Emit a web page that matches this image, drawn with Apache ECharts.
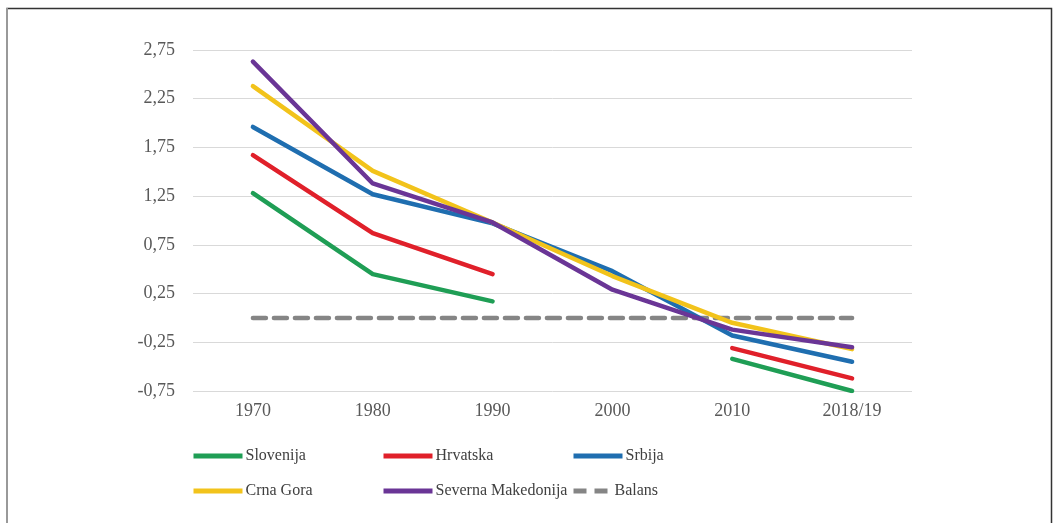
<!DOCTYPE html>
<html>
<head>
<meta charset="utf-8">
<script src="https://cdn.jsdelivr.net/npm/echarts@6/dist/echarts.min.js"></script>
<style>
  html, body { margin: 0; padding: 0; background: #fff; }
  #chart { width: 1053px; height: 523px; }
</style>
</head>
<body>
<div id="chart"></div>
<script>
// podaci
var years = ["1970", "1980", "1990", "2000", "2010", "2018/19"];
var slovenija = [1.28, 0.45, 0.17, null, -0.42, -0.75];
var hrvatska = [1.67, 0.87, 0.45, null, -0.31, -0.62];
var srbija = [1.96, 1.27, 0.97, 0.48, -0.18, -0.45];
var crnaGora = [2.38, 1.51, 0.98, 0.43, -0.05, -0.32];
var sevMakedonija = [2.63, 1.38, 0.98, 0.29, -0.12, -0.30];
var balans = [0, 0, 0, 0, 0, 0];

var serifFont = "Liberation Serif";
var myChart = echarts.init(document.getElementById("chart"));

function lineSeries(name, data, color, dashed) {
  return {
    name: name,
    type: "line",
    data: data,
    symbol: "none",
    showSymbol: false,
    connectNulls: false,
    lineStyle: dashed
      ? { color: color, width: 4.5, type: [13, 8], cap: "round" }
      : { color: color, width: 4.5, cap: "round", join: "round" },
    itemStyle: { color: color },
    z: dashed ? 1 : 2,
  };
}

// legenda - svaka stavka posebno, kao u Excelu
function legendItem(name, left, top, w) {
  return {
    data: [name],
    left: left,
    top: top,
    itemWidth: w || 49,
    itemHeight: 5,
    itemGap: 3,
    padding: 0,
    lineStyle: { width: 5, cap: "butt" },
    itemStyle: { opacity: 0 },
    textStyle: { fontFamily: serifFont, fontSize: 16, color: "#404040", padding: [0, 0, 0, -2] },
  };
}

var option = {
  animation: false,
  backgroundColor: "#fff",
  graphic: [
    {
      type: "polyline",
      shape: { points: [[7, 530], [7, 8.5], [1051.5, 8.5], [1051.5, 530]] },
      style: { stroke: "#333", lineWidth: 1.5, fill: null },
    },
    {
      type: "line",
      shape: { x1: 7, y1: 8, x2: 7, y2: 530 },
      style: { stroke: "#999", lineWidth: 2 },
    },
  ],
  legend: [
    legendItem("Slovenija", 191, 448),
    legendItem("Hrvatska", 381, 448),
    legendItem("Srbija", 571, 448),
    legendItem("Crna Gora", 191, 483),
    legendItem("Severna Makedonija", 381, 483),
    legendItem("Balans", 571, 483, 38),
  ],
  grid: { left: 193, right: 141, top: 50, bottom: 132 },
  xAxis: {
    type: "category",
    data: years,
    boundaryGap: true,
    axisLine: { show: false },
    axisTick: { show: false },
    axisLabel: { fontFamily: serifFont, fontSize: 18, color: "#595959", margin: 11 },
  },
  yAxis: {
    type: "value",
    min: -0.75,
    max: 2.75,
    interval: 0.5,
    axisLine: { show: false },
    axisTick: { show: false },
    splitLine: { lineStyle: { color: "#d9d9d9", width: 1 } },
    axisLabel: {
      fontFamily: serifFont,
      fontSize: 18,
      color: "#595959",
      margin: 18,
      formatter: function (v) {
        return v.toFixed(2).replace(".", ",");
      },
    },
  },
  series: [
    lineSeries("Slovenija", slovenija, "#1f9e55"),
    lineSeries("Hrvatska", hrvatska, "#e0202a"),
    lineSeries("Srbija", srbija, "#1f6eb0"),
    lineSeries("Crna Gora", crnaGora, "#f2c31b"),
    lineSeries("Severna Makedonija", sevMakedonija, "#6a3596"),
    lineSeries("Balans", balans, "#858585", true),
  ],
};

myChart.setOption(option);
</script>
</body>
</html>
